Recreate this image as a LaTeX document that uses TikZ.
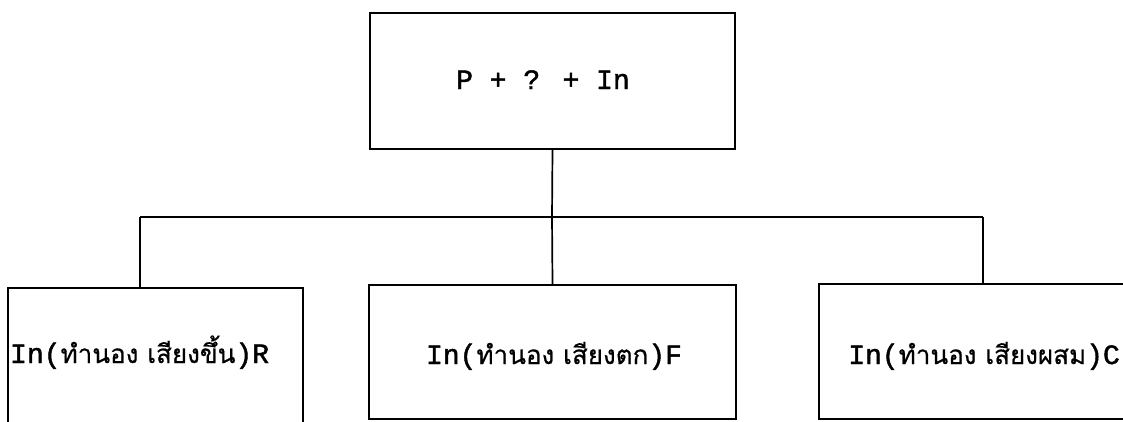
\documentclass[tikz,border=0pt]{standalone}
\usepackage{fontspec}
\newfontfamily\typew[FakeBold=1.6]{Liberation Mono}
\newfontfamily\thaiface[Script=Thai, FakeBold=0.6]{Loma}
\newcommand{\thaitxt}[1]{{\thaiface\fontsize{26}{31}\selectfont #1}}
\begin{document}
\begin{tikzpicture}[x=1pt,y=-1pt,
  box/.style={draw, line width=1.7pt, inner sep=0pt, rectangle},
  lbl/.style={inner sep=0pt, font=\typew\fontsize{28}{31}\selectfont},
  conn/.style={line width=1.7pt}]
\useasboundingbox (0,0) rectangle (1123,421);
% top box
\node[box, minimum width=365pt, minimum height=136pt] (top) at (552.5,81) {};
\node[lbl, anchor=base] (toptext) at (543,89) {P + ? + In};
% bottom boxes
\node[box, minimum width=295pt, minimum height=142pt] (left) at (155.5,359) {};
\node[box, minimum width=367pt, minimum height=134pt] (mid) at (552.5,352) {};
\node[box, minimum width=311pt, minimum height=135pt] (right) at (974.5,351.5) {};
% labels
\node[lbl, anchor=base west] (ltext) at (10,363) {In(\thaitxt{ทำนอง เสียงขึ้น})R};
\node[lbl, anchor=base] (mtext) at (554,364) {In(\thaitxt{ทำนอง เสียงตก})F};
\node[lbl, anchor=base east] (rtext) at (1120,364) {In(\thaitxt{ทำนอง เสียงผสม})C};
% connectors
\coordinate (jc) at (552,217);
\coordinate (jl) at (140,217);
\coordinate (jr) at (983,217);
\draw[conn] (top.south) -- (jc);
\draw[conn] (jl) -- (jr);
\draw[conn] (jl) -- (jl |- left.north);
\draw[conn] (jc) -- (mid.north);
\draw[conn] (jr) -- (jr |- right.north);
\end{tikzpicture}
\end{document}
